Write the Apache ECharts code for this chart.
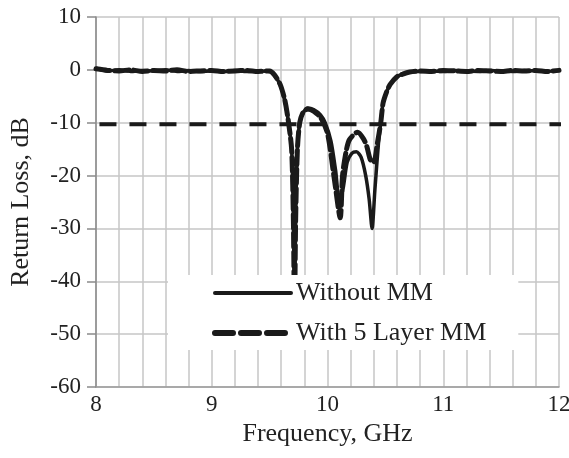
<!DOCTYPE html>
<html>
<head>
<meta charset="utf-8">
<script src="https://cdn.jsdelivr.net/npm/echarts@6/dist/echarts.min.js"></script>
<style>html,body{margin:0;padding:0;background:#fff}#c{width:569px;height:458px}</style>
</head>
<body>
<div id="c"></div>
<script>
// Frequency (GHz) and return loss (dB)
const freqWithout = [8.0,8.1,8.2,8.3,8.4,8.5,8.6,8.7,8.8,8.9,9.0,9.1,9.2,9.3,9.4,9.5,9.54,9.59,9.63,9.66,9.69,9.705,9.715,9.725,9.74,9.76,9.79,9.83,9.88,9.94,9.98,10.03,10.07,10.1,10.13,10.17,10.21,10.25,10.29,10.33,10.36,10.385,10.41,10.44,10.46,10.48,10.51,10.54,10.6,10.65,10.71,10.8,10.9,11.0,11.1,11.2,11.3,11.4,11.5,11.6,11.7,11.8,11.9,12.0];
const lossWithout = [0.3,-0.2,0.0,-0.3,-0.1,-0.2,0.0,-0.3,-0.1,-0.3,-0.2,-0.3,-0.1,-0.3,-0.2,-0.3,-1.0,-2.8,-5.7,-9.5,-15,-28,-46,-28,-15,-10,-8.1,-7.2,-7.5,-8.5,-10,-13.5,-19,-24,-23,-17.5,-15.8,-15.5,-16.5,-20,-24.5,-30,-22.5,-14,-10,-6.2,-4.2,-2.8,-1.3,-0.8,-0.4,-0.3,-0.2,-0.3,-0.1,-0.2,-0.3,-0.1,-0.2,-0.3,-0.1,-0.2,-0.3,-0.1];

const freqWith = [8.0,8.1,8.2,8.3,8.4,8.5,8.6,8.7,8.8,8.9,9.0,9.1,9.2,9.3,9.4,9.5,9.54,9.59,9.63,9.66,9.69,9.705,9.715,9.725,9.74,9.76,9.79,9.83,9.88,9.94,10.0,10.06,10.11,10.13,10.16,10.19,10.26,10.31,10.34,10.37,10.4,10.43,10.46,10.48,10.51,10.54,10.6,10.65,10.71,10.8,10.9,11.0,11.1,11.2,11.3,11.4,11.5,11.6,11.7,11.8,11.9,12.0];
const lossWith = [0.2,-0.1,-0.2,0.0,-0.3,-0.1,-0.2,0.0,-0.3,-0.2,-0.1,-0.3,-0.2,-0.1,-0.3,-0.2,-0.9,-2.7,-5.6,-9.4,-15,-28,-46,-28,-15,-10,-8.0,-7.4,-7.8,-9.0,-12,-20.8,-28,-20,-15.5,-13.2,-11.8,-13,-14.5,-17,-17.5,-14,-10,-6.3,-4.2,-2.8,-1.3,-0.8,-0.4,-0.2,-0.3,-0.1,-0.2,-0.3,-0.1,-0.2,-0.3,-0.1,-0.2,-0.1,-0.3,-0.1];

const refFreq = [8.03, 12.4];
const refLoss = [-10.3, -10.3];

const yTicks = [-60,-50,-40,-30,-20,-10,0,10];
const xTicks = [8,9,10,11,12];

const zip = (a,b) => a.map((v,i)=>[v,b[i]]);
const serif = '"Liberation Serif","Times New Roman",serif';
const gridColor = '#c6c6c6';
const ink = '#1a1a1a';

const chart = echarts.init(document.getElementById('c'), null, {renderer:'canvas'});
chart.setOption({
  animation: false,
  backgroundColor: '#fff',
  grid: {left: 96, right: 10, top: 17, bottom: 71, outerBoundsMode: 'none', containLabel: false},
  legend: {
    data: [
      {name: 'Without MM', itemStyle: {color: 'rgba(0,0,0,0)', borderWidth: 0},
       lineStyle: {color: ink, width: 4, type: 'solid', cap: 'round'}},
      {name: 'With 5 Layer MM', itemStyle: {color: 'rgba(0,0,0,0)', borderWidth: 0},
       lineStyle: {color: ink, width: 6, type: [18, 8], cap: 'round'}}
    ],
    orient: 'vertical',
    left: 168, top: 275,
    padding: [5, 32, 4, 44],
    itemGap: 14,
    itemWidth: 76, itemHeight: 26,
    backgroundColor: '#fff',
    textStyle: {fontFamily: serif, fontSize: 26, color: '#222'},
    selectedMode: false
  },
  xAxis: {
    type: 'value', min: xTicks[0], max: xTicks[xTicks.length-1], interval: 1,
    name: 'Frequency, GHz', nameLocation: 'middle', nameGap: 32,
    nameTextStyle: {fontFamily: serif, fontSize: 26, color: '#222'},
    axisLine: {onZero: false, lineStyle: {color: '#9a9a9a', width: 1.5}},
    axisTick: {show: false},
    axisLabel: {fontFamily: serif, fontSize: 23, color: '#222', margin: 6},
    splitLine: {show: true, lineStyle: {color: gridColor, width: 1.5}},
    minorTick: {show: false, splitNumber: 5},
    minorSplitLine: {show: true, lineStyle: {color: gridColor, width: 1.5}}
  },
  yAxis: {
    type: 'value', min: yTicks[0], max: yTicks[yTicks.length-1], interval: 10,
    name: 'Return Loss, dB', nameLocation: 'middle', nameGap: 62, nameRotate: 90,
    nameTextStyle: {fontFamily: serif, fontSize: 26, color: '#222'},
    axisLine: {show: true, onZero: false, lineStyle: {color: '#8a8a8a', width: 1.5}},
    axisTick: {show: true, length: 9, lineStyle: {color: '#8a8a8a', width: 1.5}},
    axisLabel: {fontFamily: serif, fontSize: 23, color: '#222', margin: 15},
    splitLine: {show: true, lineStyle: {color: gridColor, width: 1.5}}
  },
  series: [
    {
      name: 'Without MM', type: 'line', data: zip(freqWithout, lossWithout),
      symbol: 'none', smooth: 0.25,
      lineStyle: {color: ink, width: 3.5, type: 'solid'},
      itemStyle: {color: ink}, z: 3
    },
    {
      name: 'With 5 Layer MM', type: 'line', data: zip(freqWith, lossWith),
      symbol: 'none', smooth: 0.25,
      lineStyle: {color: ink, width: 5, type: [14, 5], cap: 'round'},
      itemStyle: {color: ink}, z: 3
    },
    {
      name: 'ref', type: 'line', data: zip(refFreq, refLoss),
      symbol: 'none', clip: false, silent: true,
      lineStyle: {color: ink, width: 4, type: [17, 13]},
      z: 3
    }
  ]
});
</script>
</body>
</html>
